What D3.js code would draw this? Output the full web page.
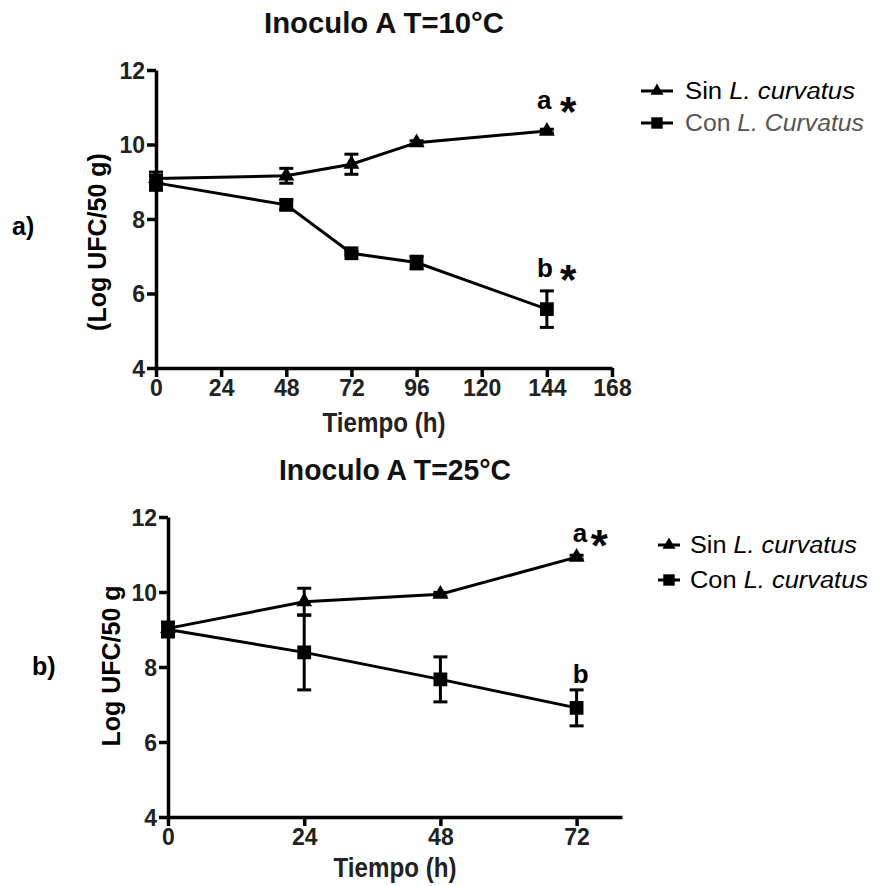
<!DOCTYPE html>
<html>
<head>
<meta charset="utf-8">
<script src="https://cdn.jsdelivr.net/npm/d3@7"></script>
<style>
  body { margin: 0; background: #fff; }
  text { font-family: "Liberation Sans", Arial, sans-serif; }
</style>
</head>
<body>
<div class="d3-chart"></div>
<script>
// panel a) 10 °C
const hoursA = [0, 48, 72, 96, 144];
const sinA = [9.09, 9.16, 9.47, 10.05, 10.36];
const sinErrA = [0.17, 0.2, 0.27, 0.05, 0.05];
const conA = [8.97, 8.38, 7.08, 6.83, 5.58];
const conErrA = [0.2, 0.13, 0.05, 0.17, 0.49];
const xTicksA = [0, 24, 48, 72, 96, 120, 144, 168];

// panel b) 25 °C
const hoursB = [0, 24, 48, 72];
const sinB = [9.03, 9.74, 9.94, 10.93];
const sinErrB = [0.15, 0.36, 0.05, 0.05];
const conB = [9.0, 8.39, 7.67, 6.91];
const conErrB = [0.2, 1.0, 0.6, 0.48];
const xTicksB = [0, 24, 48, 72];

const yTicks = [4, 6, 8, 10, 12];

const svg = d3.select(".d3-chart")
  .append("svg")
  .attr("width", 881)
  .attr("height", 886);

function drawPanel(p) {
  const x = d3.scaleLinear().domain(p.xDomain).range([p.left, p.right]);
  const y = d3.scaleLinear().domain([4, 12]).range([p.bottom, p.top]);
  const g = svg.append("g");

  // axes
  const xa = g.append("g")
    .attr("transform", `translate(0,${p.bottom})`)
    .call(d3.axisBottom(x).tickValues(p.xTicks).tickSize(9).tickSizeOuter(0).tickPadding(3));
  const ya = g.append("g")
    .attr("transform", `translate(${p.left},0)`)
    .call(d3.axisLeft(y).tickValues(yTicks).tickSize(9).tickSizeOuter(0).tickPadding(2));
  [xa, ya].forEach(a => {
    a.select(".domain").attr("stroke", "#000").attr("stroke-width", 3.5);
    a.selectAll(".tick line").attr("stroke", "#000").attr("stroke-width", 3.5);
    a.selectAll(".tick text")
      .attr("font-size", 23).attr("font-weight", "bold").attr("fill", "#222")
      .style("font-family", "'Liberation Sans', Arial, sans-serif");
  });
  ya.selectAll(".tick text").attr("dy", "0.36em");

  // titles
  g.append("text")
    .attr("x", (p.left + p.right) / 2).attr("y", p.titleY)
    .attr("text-anchor", "middle").attr("font-size", 29).attr("font-weight", "bold")
    .attr("fill", "#111")
    .attr("textLength", p.titleLen).attr("lengthAdjust", "spacingAndGlyphs")
    .text(p.title);
  g.append("text")
    .attr("x", (p.left + p.right) / 2).attr("y", p.xTitleY)
    .attr("text-anchor", "middle").attr("font-size", 27).attr("font-weight", "bold")
    .attr("fill", "#222")
    .attr("textLength", 123).attr("lengthAdjust", "spacingAndGlyphs")
    .text("Tiempo (h)");
  g.append("text")
    .attr("transform", `translate(${p.yTitleX},${p.yTitleY}) rotate(-90)`)
    .attr("text-anchor", "middle").attr("font-size", 25).attr("font-weight", "bold")
    .attr("fill", "#000")
    .text(p.yTitle);
  g.append("text")
    .attr("x", p.panelX).attr("y", p.panelY)
    .attr("font-size", 25).attr("font-weight", "bold")
    .text(p.panelLabel);

  // series
  const series = [
    {h: p.hours, v: p.sin, e: p.sinErr, sym: d3.symbolTriangle, size: 110},
    {h: p.hours, v: p.con, e: p.conErr, sym: d3.symbolSquare, size: 190}
  ];
  const line = d3.line().x(d => x(d[0])).y(d => y(d[1]));
  series.forEach(s => {
    const pts = s.h.map((h, i) => [h, s.v[i], s.e[i]]);
    g.append("path").datum(pts)
      .attr("d", line).attr("fill", "none").attr("stroke", "#000").attr("stroke-width", 3);
    const eb = g.append("g").selectAll("g").data(pts).join("g");
    eb.append("line")
      .attr("x1", d => x(d[0])).attr("x2", d => x(d[0]))
      .attr("y1", d => y(d[1] - d[2])).attr("y2", d => y(d[1] + d[2]))
      .attr("stroke", "#000").attr("stroke-width", 3);
    [-1, 1].forEach(sg => {
      eb.append("line")
        .attr("x1", d => x(d[0]) - 7).attr("x2", d => x(d[0]) + 7)
        .attr("y1", d => y(d[1] + sg * d[2])).attr("y2", d => y(d[1] + sg * d[2]))
        .attr("stroke", "#000").attr("stroke-width", 3);
    });
    g.append("g").selectAll("path").data(pts).join("path")
      .attr("transform", d => `translate(${x(d[0])},${y(d[1])})`)
      .attr("d", d3.symbol(s.sym, s.size)).attr("fill", "#000");
  });

  // significance letters
  p.notes.forEach(n => {
    g.append("text")
      .attr("x", x(n.h)).attr("y", y(n.v))
      .attr("font-size", 26).attr("font-weight", "bold")
      .text(n.letter);
    if (n.star) {
      g.append("text")
        .attr("x", x(n.h) + n.starDx).attr("y", y(n.v) + n.starDy)
        .attr("font-size", n.starSize).attr("font-weight", "bold")
        .text("*");
    }
  });

  // legend
  p.legend.forEach((l, i) => {
    const ly = p.legY + i * p.legStep;
    g.append("line")
      .attr("x1", p.legX1).attr("x2", p.legX2).attr("y1", ly).attr("y2", ly)
      .attr("stroke", "#000").attr("stroke-width", 3);
    g.append("path")
      .attr("transform", `translate(${(p.legX1 + p.legX2) / 2},${ly})`)
      .attr("d", d3.symbol(i === 0 ? d3.symbolTriangle : d3.symbolSquare, i === 0 ? 75 : 130))
      .attr("fill", "#000");
    const t = g.append("text")
      .attr("x", p.legTextX).attr("y", ly + 8)
      .attr("font-size", 23).attr("fill", l.color)
      .attr("textLength", l.len).attr("lengthAdjust", "spacingAndGlyphs");
    t.append("tspan").text(l.pre + " ");
    t.append("tspan").attr("font-style", "italic").text(l.it);
  });
}

drawPanel({
  left: 156, right: 612, top: 70, bottom: 368, xDomain: [0, 168], xTicks: xTicksA,
  hours: hoursA, sin: sinA, sinErr: sinErrA, con: conA, conErr: conErrA,
  title: "Inoculo A  T=10°C", titleY: 33, titleLen: 240, xTitleY: 432,
  yTitle: "(Log UFC/50 g)", yTitleX: 106, yTitleY: 242,
  panelLabel: "a)", panelX: 12, panelY: 235,
  notes: [
    {h: 140.4, v: 10.95, letter: "a", star: true, starDx: 23, starDy: 17, starSize: 42},
    {h: 140.4, v: 6.44, letter: "b", star: true, starDx: 23, starDy: 17, starSize: 42}
  ],
  legend: [
    {pre: "Sin", it: "L. curvatus", color: "#000", len: 170},
    {pre: "Con", it: "L. Curvatus", color: "#555", len: 179}
  ],
  legX1: 641, legX2: 673, legY: 91, legStep: 32, legTextX: 685
});

drawPanel({
  left: 168, right: 622, top: 517, bottom: 817, xDomain: [0, 80], xTicks: xTicksB,
  hours: hoursB, sin: sinB, sinErr: sinErrB, con: conB, conErr: conErrB,
  title: "Inoculo A  T=25°C", titleY: 480, titleLen: 232, xTitleY: 877,
  yTitle: "Log UFC/50 g", yTitleX: 120, yTitleY: 666,
  panelLabel: "b)", panelX: 32, panelY: 675,
  notes: [
    {h: 71.3, v: 11.33, letter: "a", star: true, starDx: 18, starDy: 19, starSize: 44},
    {h: 71.3, v: 7.57, letter: "b", star: false}
  ],
  legend: [
    {pre: "Sin", it: "L. curvatus", color: "#000", len: 167},
    {pre: "Con", it: "L. curvatus", color: "#000", len: 178}
  ],
  legX1: 658, legX2: 680, legY: 545, legStep: 35, legTextX: 690
});
</script>
</body>
</html>
